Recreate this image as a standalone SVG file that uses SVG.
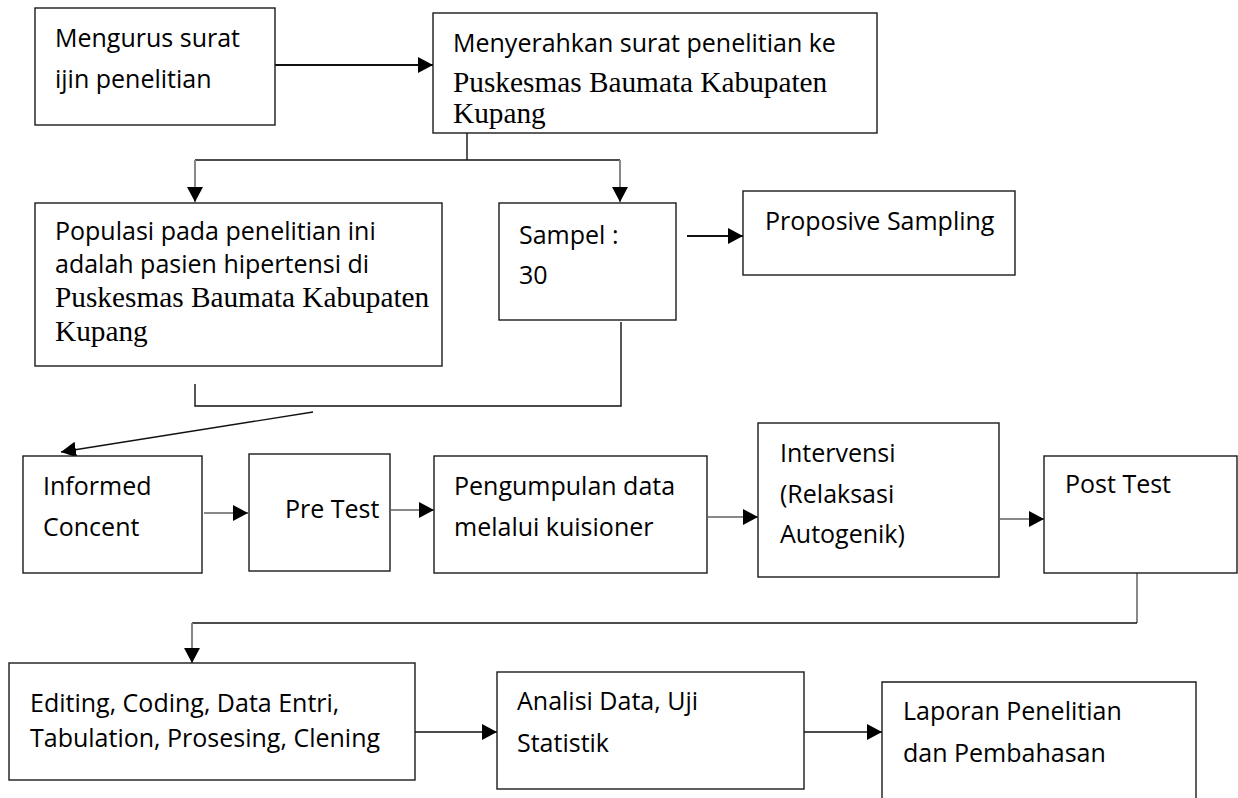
<svg xmlns="http://www.w3.org/2000/svg" width="1238" height="798" viewBox="0 0 1238 798">
<style>
.box{fill:#fff;stroke:#1a1a1a;stroke-width:1.4}
.t{font-family:"Open Sans","Liberation Sans",sans-serif;font-size:25px;fill:#000}
.s{font-family:"Liberation Serif","Times New Roman",serif;font-size:29.3px;fill:#000}
.lk{fill:none;stroke:#111;stroke-width:1.4}
.lb{fill:none;stroke:#111;stroke-width:2.2}
.lg{fill:none;stroke:#888;stroke-width:2}
</style>
<defs>
<marker id="ah" markerUnits="userSpaceOnUse" markerWidth="16" markerHeight="16" refX="15" refY="8" orient="auto">
<path d="M0,0 L15,8 L0,16 z" fill="#000"/>
</marker>
</defs>
<rect width="1238" height="798" fill="#fff"/>
<g id="connectors">
<line class="lb" x1="275" y1="65" x2="433" y2="65" marker-end="url(#ah)"/>
<line class="lk" x1="467" y1="133" x2="467" y2="160"/>
<line class="lk" x1="195" y1="160" x2="620" y2="160"/>
<line class="lg" x1="195" y1="160" x2="195" y2="202" marker-end="url(#ah)"/>
<line class="lg" x1="620" y1="160" x2="620" y2="202" marker-end="url(#ah)"/>
<line class="lb" x1="687" y1="236" x2="743" y2="236" marker-end="url(#ah)"/>
<polyline class="lk" points="195,384 195,406 621,406 621,322"/>
<line class="lk" x1="313" y1="412" x2="61" y2="452" marker-end="url(#ah)"/>
<line class="lg" x1="204" y1="513" x2="248" y2="513" marker-end="url(#ah)"/>
<line class="lg" x1="391" y1="510" x2="434" y2="510" marker-end="url(#ah)"/>
<line class="lg" x1="708" y1="517" x2="758" y2="517" marker-end="url(#ah)"/>
<line class="lg" x1="1000" y1="519" x2="1044" y2="519" marker-end="url(#ah)"/>
<line class="lg" x1="1137" y1="573" x2="1137" y2="623"/>
<line class="lk" x1="1137" y1="623" x2="192" y2="623"/>
<line class="lg" x1="192" y1="623" x2="192" y2="663" marker-end="url(#ah)"/>
<line class="lk" x1="414" y1="732" x2="497" y2="732" marker-end="url(#ah)"/>
<line class="lk" x1="803" y1="732" x2="882" y2="732" marker-end="url(#ah)"/>
</g>
<g id="n1">
<rect class="box" x="35" y="8" width="240" height="117"/>
<text class="t" x="55" y="47">Mengurus surat</text>
<text class="t" x="55" y="88">ijin penelitian</text>
</g>
<g id="n2">
<rect class="box" x="433" y="13" width="444" height="120"/>
<text class="t" x="453" y="52">Menyerahkan surat penelitian ke</text>
<text class="s" x="453" y="92">Puskesmas Baumata Kabupaten</text>
<text class="s" x="453" y="123">Kupang</text>
</g>
<g id="n3">
<rect class="box" x="35" y="203" width="407" height="163"/>
<text class="t" x="55" y="240">Populasi pada penelitian ini</text>
<text class="t" x="55" y="273">adalah pasien hipertensi di</text>
<text class="s" x="55" y="307">Puskesmas Baumata Kabupaten</text>
<text class="s" x="55" y="341">Kupang</text>
</g>
<g id="n4">
<rect class="box" x="499" y="203" width="177" height="117"/>
<text class="t" x="519" y="244">Sampel :</text>
<text class="t" x="519" y="284">30</text>
</g>
<g id="n5">
<rect class="box" x="743" y="191" width="272" height="84"/>
<text class="t" x="765" y="230">Proposive Sampling</text>
</g>
<g id="n6">
<rect class="box" x="23" y="456" width="179" height="117"/>
<text class="t" x="43" y="495">Informed</text>
<text class="t" x="43" y="536">Concent</text>
</g>
<g id="n7">
<rect class="box" x="249" y="454" width="141" height="117"/>
<text class="t" x="285" y="518">Pre Test</text>
</g>
<g id="n8">
<rect class="box" x="434" y="456" width="273" height="117"/>
<text class="t" x="454" y="495">Pengumpulan data</text>
<text class="t" x="454" y="536">melalui kuisioner</text>
</g>
<g id="n9">
<rect class="box" x="758" y="423" width="241" height="154"/>
<text class="t" x="780" y="462">Intervensi</text>
<text class="t" x="780" y="503">(Relaksasi</text>
<text class="t" x="780" y="543">Autogenik)</text>
</g>
<g id="n10">
<rect class="box" x="1044" y="456" width="193" height="117"/>
<text class="t" x="1065" y="493">Post Test</text>
</g>
<g id="n11">
<rect class="box" x="9" y="663" width="406" height="117"/>
<text class="t" x="30" y="712">Editing, Coding, Data Entri,</text>
<text class="t" x="30" y="747">Tabulation, Prosesing, Clening</text>
</g>
<g id="n12">
<rect class="box" x="497" y="672" width="307" height="117"/>
<text class="t" x="517" y="710">Analisi Data, Uji</text>
<text class="t" x="517" y="752">Statistik</text>
</g>
<g id="n13">
<path class="box" d="M882,799 V682 H1196 V799"/>
<text class="t" x="903" y="720">Laporan Penelitian</text>
<text class="t" x="903" y="762">dan Pembahasan</text>
</g>
</svg>
